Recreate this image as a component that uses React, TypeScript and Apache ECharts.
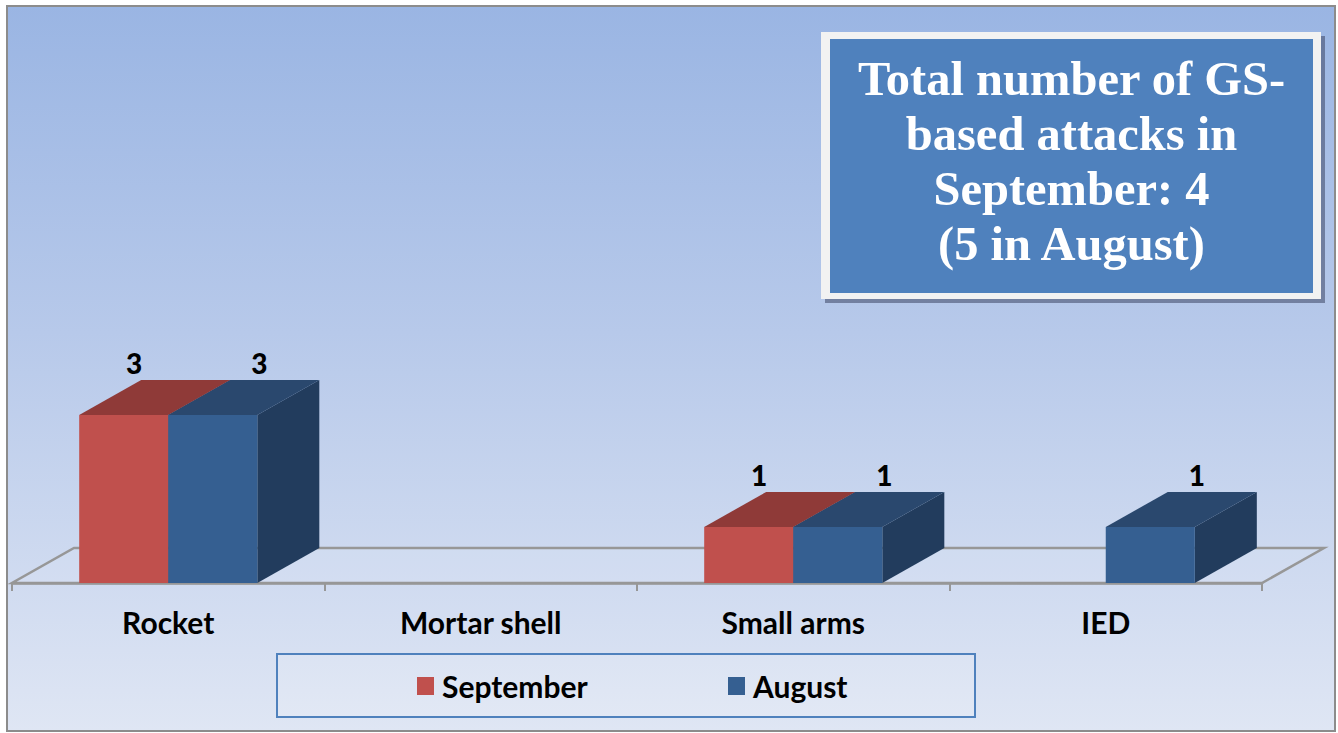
import React, { useEffect, useRef } from "react";
import * as echarts from "echarts";

const categories = ["Rocket", "Mortar shell", "Small arms", "IED"];
const september = [3, 0, 1, 0];
const august = [3, 0, 1, 1];
const seriesNames = ["September", "August"];
const titleLines = ["Total number of GS-", "based attacks in", "September: 4", "(5 in August)"];

const W = 1338;
const H = 733;
const DEPTH_X = 62;
const DEPTH_Y = 35;
const SANS = "Lato, 'Open Sans', sans-serif";

function makeRender(side: number, front: string, top: string, sideColor: string) {
  return (params: any, api: any) => {
    const idx = api.value(0);
    const v = api.value(1);
    if (!v) return { type: "group", children: [] };
    const base = api.coord([idx, 0]);
    const tp = api.coord([idx, v]);
    const band = api.size([1, 0])[0];
    const bw = band * 0.285;
    const x0 = side === 0 ? base[0] - bw : base[0];
    const x1 = x0 + bw;
    const yb = base[1];
    const yt = tp[1];
    const children: any[] = [
      {
        type: "polygon",
        shape: { points: [[x1, yb], [x1, yt], [x1 + DEPTH_X, yt - DEPTH_Y], [x1 + DEPTH_X, yb - DEPTH_Y]] },
        style: { fill: sideColor },
      },
      {
        type: "polygon",
        shape: { points: [[x0, yt], [x1, yt], [x1 + DEPTH_X, yt - DEPTH_Y], [x0 + DEPTH_X, yt - DEPTH_Y]] },
        style: { fill: top },
      },
      {
        type: "rect",
        shape: { x: x0, y: yt, width: bw, height: yb - yt },
        style: { fill: front },
      },
      {
        type: "text",
        x: side === 0 ? x0 + 55 : x0 + 91,
        y: yt - 52,
        style: {
          text: String(v),
          fill: "#000",
          font: `900 28px ${SANS}`,
          textAlign: "center",
          textVerticalAlign: "middle",
        },
      },
    ];
    return { type: "group", children };
  };
}

export default function App() {
  const ref = useRef<HTMLDivElement>(null);
  useEffect(() => {
    if (!ref.current) return;
    const chart = echarts.init(ref.current, null, { renderer: "svg" });
    const floorFrontY = 583;
    const floorLeft = 12;
    const floorRight = 1262;
    const legendText = { color: "#000", fontFamily: SANS, fontWeight: "bold", fontSize: 30, padding: [0, 0, 0, 3] };
    const option: any = {
      animation: false,
      backgroundColor: "#ffffff",
      grid: { left: 12, right: W - 1262, top: 247, bottom: H - 583, containLabel: false },
      xAxis: {
        type: "category",
        data: categories,
        boundaryGap: true,
        axisLine: { show: true, lineStyle: { color: "#979797", width: 2.5 } },
        axisTick: { show: true, length: 8, lineStyle: { color: "#979797", width: 2 } },
        axisLabel: { color: "#000", fontFamily: SANS, fontWeight: "bold", fontSize: 30, margin: 24 },
        splitLine: { show: false },
        z: 3,
      },
      yAxis: { type: "value", min: 0, max: 6, show: false, splitLine: { show: false } },
      legend: [
        {
          data: [{ name: "September", itemStyle: { color: "#C0504D" } }],
          left: 412,
          top: 666,
          icon: "rect",
          itemWidth: 17,
          itemHeight: 18,
          textStyle: legendText,
        },
        {
          data: [{ name: "August", itemStyle: { color: "#355F91" } }],
          left: 723,
          top: 666,
          icon: "rect",
          itemWidth: 17,
          itemHeight: 18,
          textStyle: legendText,
        },
      ],
      graphic: [
        {
          type: "rect",
          z: -10,
          shape: { x: 7, y: 6, width: 1328, height: 725 },
          style: {
            fill: new echarts.graphic.LinearGradient(0, 0, 0, 1, [
              { offset: 0, color: "#9AB5E3" },
              { offset: 0.45, color: "#B7C9EA" },
              { offset: 1, color: "#DFE6F4" },
            ]),
            stroke: "#8C8C8C",
            lineWidth: 2,
          },
        },
        {
          type: "polygon",
          z: -5,
          shape: {
            points: [
              [floorLeft, floorFrontY],
              [floorRight, floorFrontY],
              [floorRight + DEPTH_X, floorFrontY - DEPTH_Y],
              [floorLeft + DEPTH_X, floorFrontY - DEPTH_Y],
            ],
          },
          style: { fill: "rgba(255,255,255,0.08)", stroke: "#979797", lineWidth: 2.5 },
        },
        {
          type: "rect",
          z: 1,
          shape: { x: 825, y: 36, width: 500, height: 267 },
          style: { fill: "rgba(60,70,100,0.55)" },
        },
        {
          type: "rect",
          z: 2,
          shape: { x: 821, y: 32, width: 500, height: 267 },
          style: { fill: "#F2F2F2" },
        },
        {
          type: "rect",
          z: 3,
          shape: { x: 830, y: 39, width: 483, height: 254 },
          style: { fill: "#4F81BD" },
        },
        {
          type: "text",
          z: 4,
          x: 1071.5,
          y: 161,
          style: {
            text: titleLines.join("\n"),
            fill: "#ffffff",
            font: "bold 48.5px 'Liberation Serif', 'Times New Roman', serif",
            lineHeight: 55,
            textAlign: "center",
            textVerticalAlign: "middle",
          },
        },
        {
          type: "rect",
          z: 1,
          shape: { x: 277, y: 654, width: 698, height: 63 },
          style: { fill: "rgba(255,255,255,0.12)", stroke: "#4F81BD", lineWidth: 2 },
        },
      ],
      series: [
        {
          type: "custom",
          name: seriesNames[0],
          itemStyle: { color: "#C0504D" },
          renderItem: makeRender(0, "#C0504D", "#8F3A38", "#7A302E"),
          data: september.map((v, i) => [i, v]),
          z: 5,
        },
        {
          type: "custom",
          name: seriesNames[1],
          itemStyle: { color: "#355F91" },
          renderItem: makeRender(1, "#355F91", "#2A486E", "#223C5D"),
          data: august.map((v, i) => [i, v]),
          z: 6,
        },
      ],
    };
    chart.setOption(option);
    return () => chart.dispose();
  }, []);
  return <div ref={ref} style={{ position: "fixed", left: 0, top: 0, width: W, height: H }} />;
}
